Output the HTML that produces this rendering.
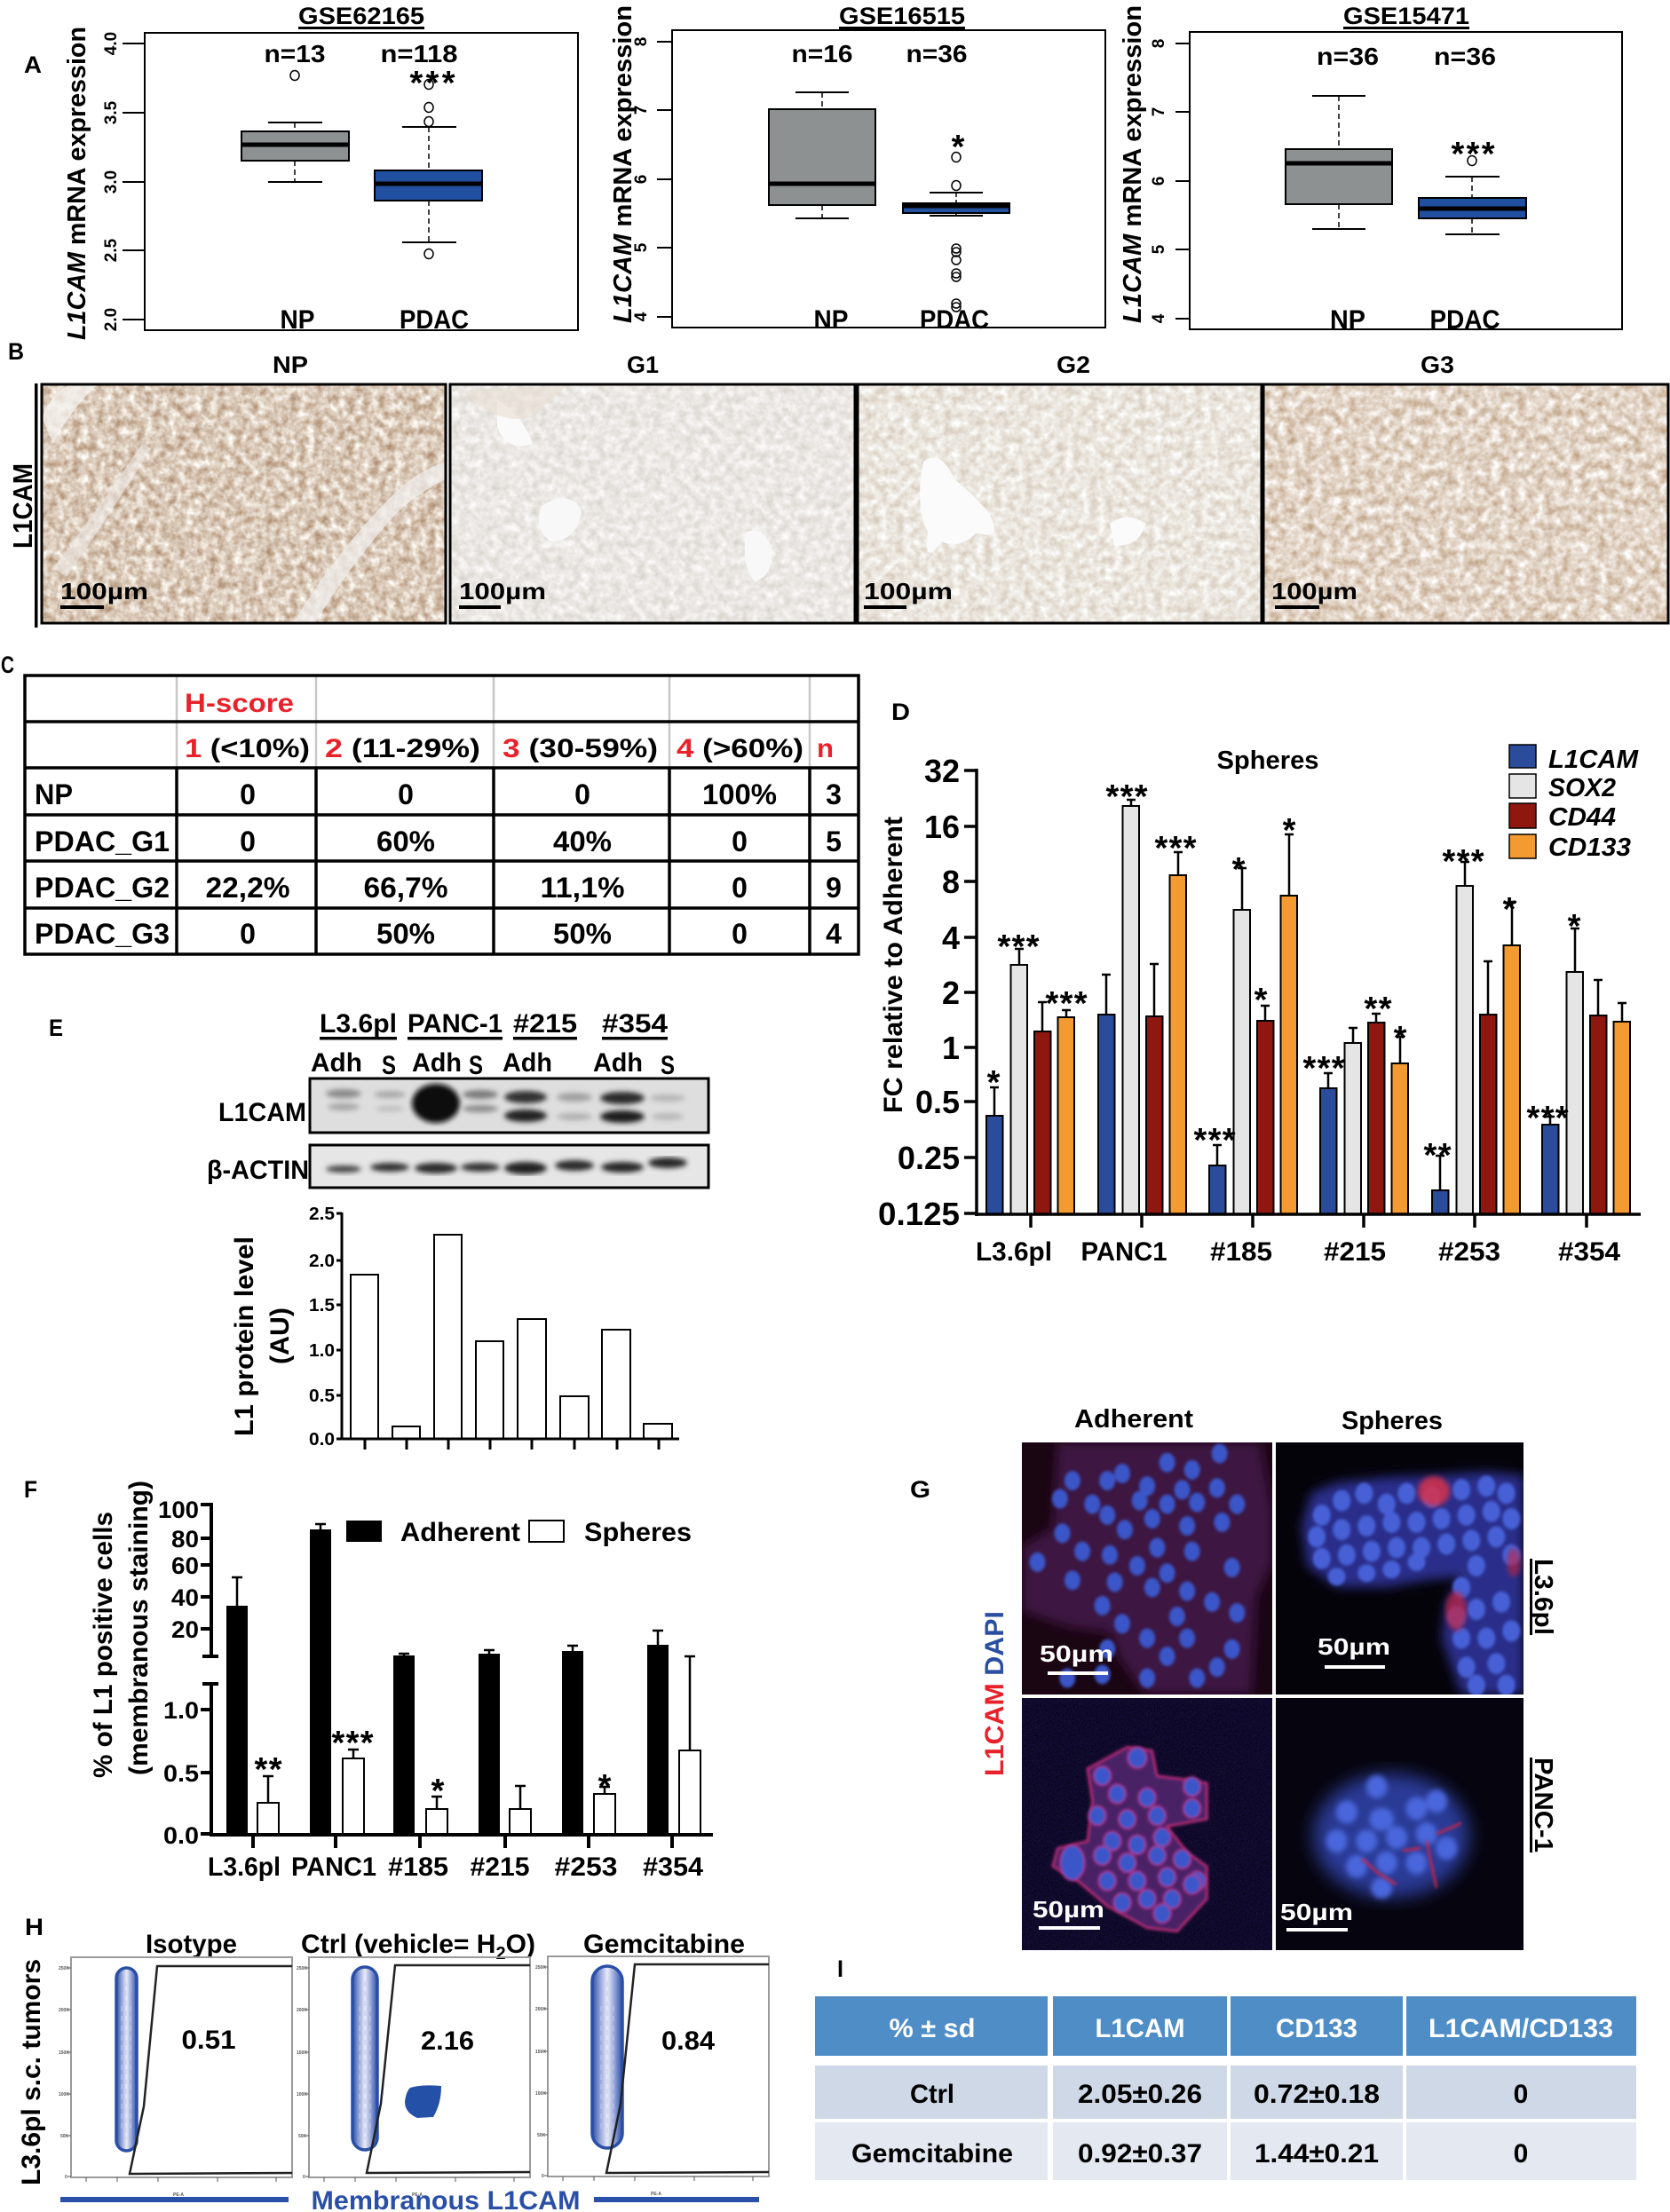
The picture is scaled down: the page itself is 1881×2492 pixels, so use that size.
<!DOCTYPE html>
<html><head><meta charset="utf-8">
<style>
html,body{margin:0;padding:0;background:#fff;}
svg{display:block;}
text{font-family:"Liberation Sans",Arial,sans-serif;font-weight:bold;}
</style></head><body>
<svg xmlns="http://www.w3.org/2000/svg" width="1881" height="2492" viewBox="0 0 1881 2492">
<defs>
 <filter id="tNP" x="0" y="0" width="1" height="1" color-interpolation-filters="sRGB">
  <feTurbulence type="fractalNoise" baseFrequency="0.11" numOctaves="3" seed="3"/>
  <feColorMatrix type="matrix" values="-0.45 0 0 0 1.08  -0.62 0 0 0 1.10  -0.75 0 0 0 1.10  0 0 0 0 1"/>
 </filter>
 <filter id="tG1" x="0" y="0" width="1" height="1" color-interpolation-filters="sRGB">
  <feTurbulence type="fractalNoise" baseFrequency="0.11" numOctaves="3" seed="7"/>
  <feColorMatrix type="matrix" values="-0.2 0 0 0 1.02  -0.22 0 0 0 1.02  -0.25 0 0 0 1.02  0 0 0 0 1"/>
 </filter>
 <filter id="tG2" x="0" y="0" width="1" height="1" color-interpolation-filters="sRGB">
  <feTurbulence type="fractalNoise" baseFrequency="0.11" numOctaves="3" seed="11"/>
  <feColorMatrix type="matrix" values="-0.22 0 0 0 1.03  -0.3 0 0 0 1.05  -0.38 0 0 0 1.06  0 0 0 0 1"/>
 </filter>
 <filter id="tG3" x="0" y="0" width="1" height="1" color-interpolation-filters="sRGB">
  <feTurbulence type="fractalNoise" baseFrequency="0.1" numOctaves="3" seed="5"/>
  <feColorMatrix type="matrix" values="-0.35 0 0 0 1.06  -0.5 0 0 0 1.08  -0.65 0 0 0 1.10  0 0 0 0 1"/>
 </filter>
 <filter id="tBL" x="0" y="0" width="1" height="1" color-interpolation-filters="sRGB">
  <feTurbulence type="fractalNoise" baseFrequency="0.6" numOctaves="1" seed="9"/>
  <feColorMatrix type="matrix" values="0.12 0 0 0 0  0.08 0 0 0 0  0.3 0 0 0 0.02  0 0 0 0 1"/>
 </filter>
 <filter id="blur1"><feGaussianBlur stdDeviation="1.5"/></filter>
 <filter id="blur3"><feGaussianBlur stdDeviation="3"/></filter>
 <filter id="blur6"><feGaussianBlur stdDeviation="6"/></filter>
 <filter id="blur10"><feGaussianBlur stdDeviation="10"/></filter>
 <linearGradient id="flowg" x1="0" x2="1" y1="0" y2="0">
  <stop offset="0" stop-color="#2a4fa6"/>
  <stop offset="0.25" stop-color="#8f9fd6"/>
  <stop offset="0.5" stop-color="#e8ebf8"/>
  <stop offset="0.75" stop-color="#8f9fd6"/>
  <stop offset="1" stop-color="#2a4fa6"/>
 </linearGradient>
</defs>
<rect width="1881" height="2492" fill="#fff"/>

<!-- ================= PANEL A ================= -->
<text x="27" y="82" font-size="27" textLength="20" lengthAdjust="spacingAndGlyphs">A</text>

<!-- Plot 1 -->
<text x="407" y="27" font-size="27" text-anchor="middle" textLength="142" lengthAdjust="spacingAndGlyphs">GSE62165</text>
<rect x="336" y="30" width="142" height="3" fill="#000"/>
<rect x="163" y="37" width="488" height="335" fill="none" stroke="#000" stroke-width="2"/>
<path d="M138 49H163M138 127H163M138 205H163M138 282H163M138 360H163" stroke="#000" stroke-width="2"/>
<g font-size="19" text-anchor="middle" style="font-weight:normal">
 <text transform="translate(131,49) rotate(-90)">4.0</text>
 <text transform="translate(131,127) rotate(-90)">3.5</text>
 <text transform="translate(131,205) rotate(-90)">3.0</text>
 <text transform="translate(131,282) rotate(-90)">2.5</text>
 <text transform="translate(131,360) rotate(-90)">2.0</text>
</g>
<text transform="translate(96,383) rotate(-90)" font-size="29" textLength="353" lengthAdjust="spacingAndGlyphs"><tspan font-style="italic">L1CAM</tspan> mRNA expression</text>
<text x="332" y="70" font-size="28" text-anchor="middle" textLength="69" lengthAdjust="spacingAndGlyphs">n=13</text>
<text x="472" y="70" font-size="28" text-anchor="middle" textLength="87" lengthAdjust="spacingAndGlyphs">n=118</text>
<!-- NP box -->
<path d="M332 138V148M332 181V205" stroke="#000" stroke-width="1.5" stroke-dasharray="6 4"/>
<path d="M302 138H363M302 205H363" stroke="#000" stroke-width="2"/>
<rect x="272" y="148" width="121" height="33" fill="#8e9192" stroke="#000" stroke-width="2"/>
<path d="M272 163H393" stroke="#000" stroke-width="5"/>
<ellipse cx="332" cy="85" rx="5" ry="5.5" fill="none" stroke="#000" stroke-width="1.5"/>
<!-- PDAC box -->
<path d="M483 143V192M483 226V273" stroke="#000" stroke-width="1.5" stroke-dasharray="6 4"/>
<path d="M453 143H514M453 273H514" stroke="#000" stroke-width="2"/>
<rect x="422" y="192" width="121" height="34" fill="#2150a0" stroke="#000" stroke-width="2"/>
<path d="M422 207H543" stroke="#000" stroke-width="5"/>
<g fill="none" stroke="#000" stroke-width="1.5">
 <ellipse cx="483" cy="95" rx="5" ry="5.5"/><ellipse cx="483" cy="121" rx="5" ry="5.5"/>
 <ellipse cx="483" cy="137" rx="5" ry="5.5"/><ellipse cx="483" cy="286" rx="5" ry="5.5"/>
</g>
<text x="487" y="106" font-size="38" text-anchor="middle" textLength="51" lengthAdjust="spacing">***</text>
<text x="335" y="370" font-size="30" text-anchor="middle" textLength="39" lengthAdjust="spacingAndGlyphs">NP</text>
<text x="489" y="370" font-size="30" text-anchor="middle" textLength="78" lengthAdjust="spacingAndGlyphs">PDAC</text>

<!-- Plot 2 -->
<text x="1016" y="27" font-size="27" text-anchor="middle" textLength="142" lengthAdjust="spacingAndGlyphs">GSE16515</text>
<rect x="945" y="30" width="142" height="3" fill="#000"/>
<rect x="757" y="34" width="488" height="335" fill="none" stroke="#000" stroke-width="2"/>
<path d="M740 47H757M740 124H757M740 202H757M740 279H757M740 357H757" stroke="#000" stroke-width="2"/>
<g font-size="19" text-anchor="middle" style="font-weight:normal">
 <text transform="translate(728,47) rotate(-90)">8</text>
 <text transform="translate(728,124) rotate(-90)">7</text>
 <text transform="translate(728,202) rotate(-90)">6</text>
 <text transform="translate(728,279) rotate(-90)">5</text>
 <text transform="translate(728,357) rotate(-90)">4</text>
</g>
<text transform="translate(711,364) rotate(-90)" font-size="29" textLength="358" lengthAdjust="spacingAndGlyphs"><tspan font-style="italic">L1CAM</tspan> mRNA expression</text>
<text x="926" y="70" font-size="28" text-anchor="middle" textLength="69" lengthAdjust="spacingAndGlyphs">n=16</text>
<text x="1055" y="70" font-size="28" text-anchor="middle" textLength="69" lengthAdjust="spacingAndGlyphs">n=36</text>
<path d="M926 104V123M926 231V246" stroke="#000" stroke-width="1.5" stroke-dasharray="6 4"/>
<path d="M896 104H956M896 246H956" stroke="#000" stroke-width="2"/>
<rect x="866" y="123" width="120" height="108" fill="#8e9192" stroke="#000" stroke-width="2"/>
<path d="M866 207H986" stroke="#000" stroke-width="5"/>
<path d="M1077 217V229M1077 240V243" stroke="#000" stroke-width="1.5" stroke-dasharray="5 3"/>
<path d="M1047 217H1107M1047 243H1107" stroke="#000" stroke-width="2"/>
<rect x="1017" y="229" width="120" height="11" fill="#2150a0" stroke="#000" stroke-width="2"/>
<path d="M1017 232H1137" stroke="#000" stroke-width="5"/>
<g fill="none" stroke="#000" stroke-width="1.5">
 <ellipse cx="1077" cy="177" rx="5" ry="5.5"/><ellipse cx="1077" cy="209" rx="5" ry="5.5"/>
 <ellipse cx="1077" cy="280" rx="5" ry="5"/><ellipse cx="1077" cy="284" rx="5" ry="5"/>
 <ellipse cx="1077" cy="293" rx="5" ry="5"/><ellipse cx="1077" cy="308" rx="5" ry="5"/>
 <ellipse cx="1077" cy="312" rx="5" ry="5"/><ellipse cx="1077" cy="342" rx="5" ry="5"/>
 <ellipse cx="1077" cy="346" rx="5" ry="5"/>
</g>
<text x="1079" y="178" font-size="38" text-anchor="middle">*</text>
<text x="936" y="370" font-size="30" text-anchor="middle" textLength="39" lengthAdjust="spacingAndGlyphs">NP</text>
<text x="1075" y="370" font-size="30" text-anchor="middle" textLength="78" lengthAdjust="spacingAndGlyphs">PDAC</text>

<!-- Plot 3 -->
<text x="1584" y="27" font-size="27" text-anchor="middle" textLength="142" lengthAdjust="spacingAndGlyphs">GSE15471</text>
<rect x="1513" y="30" width="142" height="3" fill="#000"/>
<rect x="1340" y="36" width="487" height="335" fill="none" stroke="#000" stroke-width="2"/>
<path d="M1324 49H1340M1324 126H1340M1324 204H1340M1324 281H1340M1324 359H1340" stroke="#000" stroke-width="2"/>
<g font-size="19" text-anchor="middle" style="font-weight:normal">
 <text transform="translate(1311,49) rotate(-90)">8</text>
 <text transform="translate(1311,126) rotate(-90)">7</text>
 <text transform="translate(1311,204) rotate(-90)">6</text>
 <text transform="translate(1311,281) rotate(-90)">5</text>
 <text transform="translate(1311,359) rotate(-90)">4</text>
</g>
<text transform="translate(1285,364) rotate(-90)" font-size="29" textLength="358" lengthAdjust="spacingAndGlyphs"><tspan font-style="italic">L1CAM</tspan> mRNA expression</text>
<text x="1518" y="73" font-size="28" text-anchor="middle" textLength="70" lengthAdjust="spacingAndGlyphs">n=36</text>
<text x="1650" y="73" font-size="28" text-anchor="middle" textLength="70" lengthAdjust="spacingAndGlyphs">n=36</text>
<path d="M1508 108V168M1508 230V258" stroke="#000" stroke-width="1.5" stroke-dasharray="6 4"/>
<path d="M1478 108H1538M1478 258H1538" stroke="#000" stroke-width="2"/>
<rect x="1448" y="168" width="120" height="62" fill="#8e9192" stroke="#000" stroke-width="2"/>
<path d="M1448 184H1568" stroke="#000" stroke-width="5"/>
<path d="M1658 199V223M1658 246V264" stroke="#000" stroke-width="1.5" stroke-dasharray="6 4"/>
<path d="M1628 199H1689M1628 264H1689" stroke="#000" stroke-width="2"/>
<rect x="1598" y="223" width="121" height="23" fill="#2150a0" stroke="#000" stroke-width="2"/>
<path d="M1598 235H1719" stroke="#000" stroke-width="5"/>
<ellipse cx="1658" cy="181" rx="5" ry="5.5" fill="none" stroke="#000" stroke-width="1.5"/>
<text x="1659" y="186" font-size="38" text-anchor="middle" textLength="49" lengthAdjust="spacing">***</text>
<text x="1518" y="370" font-size="30" text-anchor="middle" textLength="40" lengthAdjust="spacingAndGlyphs">NP</text>
<text x="1650" y="370" font-size="30" text-anchor="middle" textLength="79" lengthAdjust="spacingAndGlyphs">PDAC</text>

<!-- ================= PANEL B ================= -->
<text x="9" y="405" font-size="27" textLength="18" lengthAdjust="spacingAndGlyphs">B</text>
<g font-size="27" text-anchor="middle">
 <text x="327" y="420" textLength="40" lengthAdjust="spacingAndGlyphs">NP</text>
 <text x="724" y="420" textLength="36" lengthAdjust="spacingAndGlyphs">G1</text>
 <text x="1209" y="420" textLength="38" lengthAdjust="spacingAndGlyphs">G2</text>
 <text x="1619" y="420" textLength="38" lengthAdjust="spacingAndGlyphs">G3</text>
</g>
<rect x="39" y="432" width="3.5" height="275" fill="#000"/>
<text transform="translate(36,618) rotate(-90)" font-size="31" textLength="96" lengthAdjust="spacingAndGlyphs">L1CAM</text>

<rect x="47" y="433" width="455" height="269" filter="url(#tNP)"/>
<path d="M47 470 Q60 440 80 433 L110 433 Q80 460 60 500 Z" fill="#f4f1ee" opacity="0.8"/>
<path d="M60 640 Q120 560 160 500 L170 505 Q130 570 75 650 Z" fill="#eeebe8" opacity="0.6"/>
<path d="M330 702 Q380 620 440 560 Q470 530 502 520 L502 540 Q470 555 445 580 Q395 635 355 702 Z" fill="#f0eeec" opacity="0.75"/>
<rect x="47" y="433" width="455" height="269" fill="none" stroke="#000" stroke-width="3"/>

<rect x="507" y="433" width="456" height="269" filter="url(#tG1)"/>
<path d="M560 450 Q590 470 600 500 Q570 510 560 480 Z" fill="#fafafa"/>
<path d="M610 570 Q640 550 655 575 Q650 610 620 610 Q600 595 610 570 Z" fill="#f8f8f8"/>
<path d="M840 600 Q860 590 870 620 Q870 650 850 655 Q835 640 840 600 Z" fill="#f8f8f8"/>
<path d="M520 440 Q560 480 600 470 L640 433 Z" fill="#e8ddd2" opacity="0.6"/>
<rect x="507" y="433" width="456" height="269" fill="none" stroke="#000" stroke-width="3"/>

<rect x="966" y="433" width="455" height="269" filter="url(#tG2)"/>
<path d="M1040 520 Q1060 505 1075 540 Q1100 560 1115 580 Q1130 610 1100 600 Q1080 620 1060 610 Q1040 640 1045 600 Q1030 570 1040 520 Z" fill="#fbfbfb"/>
<path d="M1250 590 Q1270 575 1290 590 Q1285 615 1255 615 Z" fill="#fbfbfb"/>
<rect x="966" y="433" width="455" height="269" fill="none" stroke="#000" stroke-width="3"/>

<rect x="1423" y="433" width="456" height="269" filter="url(#tG3)"/>
<rect x="1423" y="433" width="456" height="269" fill="none" stroke="#000" stroke-width="3"/>

<g font-size="26">
 <text x="68" y="675" textLength="99" lengthAdjust="spacingAndGlyphs">100µm</text>
 <text x="517" y="675" textLength="98" lengthAdjust="spacingAndGlyphs">100µm</text>
 <text x="973" y="675" textLength="100" lengthAdjust="spacingAndGlyphs">100µm</text>
 <text x="1432" y="675" textLength="97" lengthAdjust="spacingAndGlyphs">100µm</text>
</g>
<g fill="#000">
 <rect x="68" y="682" width="49" height="4"/>
 <rect x="517" y="682" width="47" height="4"/>
 <rect x="973" y="682" width="48" height="4"/>
 <rect x="1436" y="682" width="50" height="4"/>
</g>

<!-- ================= PANEL C ================= -->
<text x="1" y="758" font-size="27" textLength="15" lengthAdjust="spacingAndGlyphs">C</text>
<g stroke="#c8c8c8" stroke-width="2.5">
 <path d="M199 761V865M356 761V865M556 761V865M754 761V865M912 761V865"/>
</g>
<g stroke="#000" stroke-width="3.5">
 <path d="M199 865V1075M356 865V1075M556 865V1075M754 865V1075M912 865V1075"/>
 <path d="M28 813H967M28 865H967M28 918H967M28 970H967M28 1023H967"/>
 <rect x="28" y="761" width="939" height="314" fill="none"/>
</g>
<text x="208" y="802" font-size="30" fill="#e8212a" textLength="123" lengthAdjust="spacingAndGlyphs">H-score</text>
<g font-size="30">
 <text x="208" y="853" textLength="141" lengthAdjust="spacingAndGlyphs"><tspan fill="#e8212a">1</tspan> (&lt;10%)</text>
 <text x="366" y="853" textLength="175" lengthAdjust="spacingAndGlyphs"><tspan fill="#e8212a">2</tspan> (11-29%)</text>
 <text x="566" y="853" textLength="175" lengthAdjust="spacingAndGlyphs"><tspan fill="#e8212a">3</tspan> (30-59%)</text>
 <text x="762" y="853" textLength="143" lengthAdjust="spacingAndGlyphs"><tspan fill="#e8212a">4</tspan> (&gt;60%)</text>
 <text x="920" y="853" fill="#e8212a" textLength="19" lengthAdjust="spacingAndGlyphs">n</text>
</g>
<g font-size="32">
 <text x="39" y="906" textLength="43" lengthAdjust="spacingAndGlyphs">NP</text>
 <text x="39" y="959" textLength="152" lengthAdjust="spacingAndGlyphs">PDAC_G1</text>
 <text x="39" y="1011" textLength="152" lengthAdjust="spacingAndGlyphs">PDAC_G2</text>
 <text x="39" y="1063" textLength="152" lengthAdjust="spacingAndGlyphs">PDAC_G3</text>
</g>
<g font-size="32" text-anchor="middle">
 <text x="279" y="906">0</text><text x="457" y="906">0</text><text x="656" y="906">0</text><text x="833" y="906" textLength="84" lengthAdjust="spacingAndGlyphs">100%</text><text x="939" y="906">3</text>
 <text x="279" y="959">0</text><text x="457" y="959" textLength="66" lengthAdjust="spacingAndGlyphs">60%</text><text x="656" y="959" textLength="66" lengthAdjust="spacingAndGlyphs">40%</text><text x="833" y="959">0</text><text x="939" y="959">5</text>
 <text x="279" y="1011" textLength="95" lengthAdjust="spacingAndGlyphs">22,2%</text><text x="457" y="1011" textLength="95" lengthAdjust="spacingAndGlyphs">66,7%</text><text x="656" y="1011" textLength="95" lengthAdjust="spacingAndGlyphs">11,1%</text><text x="833" y="1011">0</text><text x="939" y="1011">9</text>
 <text x="279" y="1063">0</text><text x="457" y="1063" textLength="66" lengthAdjust="spacingAndGlyphs">50%</text><text x="656" y="1063" textLength="66" lengthAdjust="spacingAndGlyphs">50%</text><text x="833" y="1063">0</text><text x="939" y="1063">4</text>
</g>

<!-- ================= PANEL D ================= -->
<text x="1004" y="811" font-size="27" textLength="21" lengthAdjust="spacingAndGlyphs">D</text>
<text x="1428" y="866" font-size="29" text-anchor="middle" textLength="115" lengthAdjust="spacingAndGlyphs">Spheres</text>
<text transform="translate(1016,1254) rotate(-90)" font-size="30" textLength="334" lengthAdjust="spacingAndGlyphs">FC relative to Adherent</text>
<g font-size="36" text-anchor="end">
 <text x="1081" y="881">32</text>
 <text x="1081" y="944">16</text>
 <text x="1081" y="1006">8</text>
 <text x="1081" y="1069">4</text>
 <text x="1081" y="1131">2</text>
 <text x="1081" y="1193">1</text>
 <text x="1081" y="1254">0.5</text>
 <text x="1081" y="1317">0.25</text>
 <text x="1081" y="1380" textLength="92" lengthAdjust="spacingAndGlyphs">0.125</text>
</g>
<!-- legend -->
<g stroke="#000" stroke-width="1.5">
 <rect x="1700" y="839" width="30" height="26" fill="#2b4c9b"/>
 <rect x="1700" y="872" width="30" height="27" fill="#e5e5e5"/>
 <rect x="1700" y="905" width="30" height="28" fill="#8e1810"/>
 <rect x="1700" y="940" width="30" height="27" fill="#f39a30"/>
</g>
<g font-size="29" font-style="italic">
 <text x="1744" y="865" textLength="101" lengthAdjust="spacingAndGlyphs">L1CAM</text>
 <text x="1744" y="897" textLength="76" lengthAdjust="spacingAndGlyphs">SOX2</text>
 <text x="1744" y="930" textLength="76" lengthAdjust="spacingAndGlyphs">CD44</text>
 <text x="1744" y="964" textLength="93" lengthAdjust="spacingAndGlyphs">CD133</text>
</g>
<!-- error bars -->
<g stroke="#000" stroke-width="2.5" fill="none">
 <path d="M1120 1257V1225M1115 1225H1125 M1148 1087V1069M1143 1069H1153 M1174 1162V1129M1169 1129H1179 M1201 1146V1138M1196 1138H1206"/>
 <path d="M1246 1143V1098M1241 1098H1251 M1274 908V901M1269 901H1279 M1300 1145V1086M1295 1086H1305 M1327 986V960M1322 960H1332"/>
 <path d="M1371 1313V1290M1366 1290H1376 M1399 1025V978M1394 978H1404 M1425 1150V1133M1420 1133H1430 M1452 1009V940M1447 940H1457"/>
 <path d="M1496 1226V1209M1491 1209H1501 M1524 1175V1158M1519 1158H1529 M1550 1152V1142M1545 1142H1555 M1577 1198V1168M1572 1168H1582"/>
 <path d="M1622 1341V1302M1617 1302H1627 M1650 998V971M1645 971H1655 M1676 1143V1083M1671 1083H1681 M1703 1065V1016M1698 1016H1708"/>
 <path d="M1746 1267V1258M1741 1258H1751 M1774 1095V1046M1769 1046H1779 M1800 1144V1104M1795 1104H1805 M1827 1151V1130M1822 1130H1832"/>
</g>
<!-- bars -->
<g stroke="#000" stroke-width="2">
 <rect x="1111" y="1257" width="18.5" height="111" fill="#2b4c9b"/>
 <rect x="1138.5" y="1087" width="18.5" height="281" fill="#e5e5e5"/>
 <rect x="1165" y="1162" width="18.5" height="206" fill="#8e1810"/>
 <rect x="1191.5" y="1146" width="18.5" height="222" fill="#f39a30"/>

 <rect x="1237" y="1143" width="18.5" height="225" fill="#2b4c9b"/>
 <rect x="1264.5" y="908" width="18.5" height="460" fill="#e5e5e5"/>
 <rect x="1291" y="1145" width="18.5" height="223" fill="#8e1810"/>
 <rect x="1317.5" y="986" width="18.5" height="382" fill="#f39a30"/>

 <rect x="1362" y="1313" width="18.5" height="55" fill="#2b4c9b"/>
 <rect x="1389.5" y="1025" width="18.5" height="343" fill="#e5e5e5"/>
 <rect x="1416" y="1150" width="18.5" height="218" fill="#8e1810"/>
 <rect x="1442.5" y="1009" width="18.5" height="359" fill="#f39a30"/>

 <rect x="1487" y="1226" width="18.5" height="142" fill="#2b4c9b"/>
 <rect x="1514.5" y="1175" width="18.5" height="193" fill="#e5e5e5"/>
 <rect x="1541" y="1152" width="18.5" height="216" fill="#8e1810"/>
 <rect x="1567.5" y="1198" width="18.5" height="170" fill="#f39a30"/>

 <rect x="1613" y="1341" width="18.5" height="27" fill="#2b4c9b"/>
 <rect x="1640.5" y="998" width="18.5" height="370" fill="#e5e5e5"/>
 <rect x="1667" y="1143" width="18.5" height="225" fill="#8e1810"/>
 <rect x="1693.5" y="1065" width="18.5" height="303" fill="#f39a30"/>

 <rect x="1737" y="1267" width="18.5" height="101" fill="#2b4c9b"/>
 <rect x="1764.5" y="1095" width="18.5" height="273" fill="#e5e5e5"/>
 <rect x="1791" y="1144" width="18.5" height="224" fill="#8e1810"/>
 <rect x="1817.5" y="1151" width="18.5" height="217" fill="#f39a30"/>
</g>
<!-- axes -->
<g stroke="#000" stroke-width="3.5" fill="none">
 <path d="M1100 866V1370M1098 1368H1848"/>
 <path d="M1086 868H1100M1086 931H1100M1086 993H1100M1086 1056H1100M1086 1118H1100M1086 1180H1100M1086 1241H1100M1086 1304H1100M1086 1367H1100"/>
 <path d="M1161 1368V1383M1286 1368V1383M1411 1368V1383M1536 1368V1383M1661 1368V1383M1787 1368V1383"/>
</g>
<g font-size="30" text-anchor="middle">
 <text x="1142" y="1420" textLength="86" lengthAdjust="spacingAndGlyphs">L3.6pl</text>
 <text x="1266" y="1420" textLength="97" lengthAdjust="spacingAndGlyphs">PANC1</text>
 <text x="1398" y="1420" textLength="70" lengthAdjust="spacingAndGlyphs">#185</text>
 <text x="1526" y="1420" textLength="70" lengthAdjust="spacingAndGlyphs">#215</text>
 <text x="1655" y="1420" textLength="70" lengthAdjust="spacingAndGlyphs">#253</text>
 <text x="1790" y="1420" textLength="70" lengthAdjust="spacingAndGlyphs">#354</text>
</g>
<g font-size="38" text-anchor="middle">
 <text x="1119" y="1232">*</text>
 <text x="1147" y="1079" textLength="47" lengthAdjust="spacing">***</text>
 <text x="1201" y="1143" textLength="47" lengthAdjust="spacing">***</text>
 <text x="1269" y="910" textLength="47" lengthAdjust="spacing">***</text>
 <text x="1324" y="968" textLength="47" lengthAdjust="spacing">***</text>
 <text x="1368" y="1297" textLength="47" lengthAdjust="spacing">***</text>
 <text x="1395" y="992">*</text>
 <text x="1420" y="1139">*</text>
 <text x="1452" y="948">*</text>
 <text x="1491" y="1216" textLength="47" lengthAdjust="spacing">***</text>
 <text x="1552" y="1149" textLength="31" lengthAdjust="spacing">**</text>
 <text x="1577" y="1182">*</text>
 <text x="1619" y="1314" textLength="31" lengthAdjust="spacing">**</text>
 <text x="1648" y="983" textLength="47" lengthAdjust="spacing">***</text>
 <text x="1700" y="1037">*</text>
 <text x="1743" y="1272" textLength="47" lengthAdjust="spacing">***</text>
 <text x="1773" y="1056">*</text>
</g>

<!-- ================= PANEL E ================= -->
<text x="55" y="1167" font-size="27" textLength="16" lengthAdjust="spacingAndGlyphs">E</text>
<g font-size="30">
 <text x="360" y="1163" textLength="87" lengthAdjust="spacingAndGlyphs">L3.6pl</text>
 <text x="459" y="1163" textLength="107" lengthAdjust="spacingAndGlyphs">PANC-1</text>
 <text x="578" y="1163" textLength="72" lengthAdjust="spacingAndGlyphs">#215</text>
 <text x="678" y="1163" textLength="74" lengthAdjust="spacingAndGlyphs">#354</text>
</g>
<g fill="#000">
 <rect x="360" y="1168" width="87" height="3.5"/>
 <rect x="459" y="1168" width="107" height="3.5"/>
 <rect x="578" y="1168" width="72" height="3.5"/>
 <rect x="678" y="1168" width="74" height="3.5"/>
</g>
<g font-size="30">
 <text x="350" y="1207" textLength="58" lengthAdjust="spacingAndGlyphs">Adh</text>
 <text x="430" y="1210" textLength="16" lengthAdjust="spacingAndGlyphs">S</text>
 <text x="464" y="1207" textLength="56" lengthAdjust="spacingAndGlyphs">Adh</text>
 <text x="528" y="1210" textLength="16" lengthAdjust="spacingAndGlyphs">S</text>
 <text x="566" y="1207" textLength="56" lengthAdjust="spacingAndGlyphs">Adh</text>
 <text x="668" y="1207" textLength="56" lengthAdjust="spacingAndGlyphs">Adh</text>
 <text x="744" y="1210" textLength="16" lengthAdjust="spacingAndGlyphs">S</text>
</g>
<text x="345" y="1263" font-size="30" text-anchor="end" textLength="99" lengthAdjust="spacingAndGlyphs">L1CAM</text>
<text x="348" y="1328" font-size="30" text-anchor="end" textLength="115" lengthAdjust="spacingAndGlyphs">β-ACTIN</text>
<!-- blots -->
<rect x="349" y="1215" width="449" height="61" fill="#dedede"/>
<g filter="url(#blur3)">
 <ellipse cx="387" cy="1232" rx="20" ry="5" fill="#8a8a8a"/>
 <ellipse cx="387" cy="1247" rx="18" ry="4" fill="#a5a5a5"/>
 <ellipse cx="439" cy="1233" rx="18" ry="4" fill="#a8a8a8"/>
 <ellipse cx="439" cy="1249" rx="16" ry="3" fill="#bbb"/>
 <ellipse cx="491" cy="1243" rx="27" ry="22" fill="#111"/>
 <ellipse cx="541" cy="1233" rx="20" ry="5" fill="#7a7a7a"/>
 <ellipse cx="541" cy="1249" rx="20" ry="4" fill="#8a8a8a"/>
 <ellipse cx="592" cy="1236" rx="24" ry="7" fill="#333"/>
 <ellipse cx="592" cy="1257" rx="24" ry="7" fill="#222"/>
 <ellipse cx="647" cy="1236" rx="20" ry="5" fill="#a0a0a0"/>
 <ellipse cx="647" cy="1258" rx="20" ry="4" fill="#b0b0b0"/>
 <ellipse cx="701" cy="1237" rx="25" ry="7" fill="#2c2c2c"/>
 <ellipse cx="701" cy="1258" rx="25" ry="7" fill="#1c1c1c"/>
 <ellipse cx="752" cy="1237" rx="20" ry="4" fill="#b5b5b5"/>
 <ellipse cx="752" cy="1258" rx="18" ry="4" fill="#b8b8b8"/>
</g>
<rect x="349" y="1215" width="449" height="61" fill="none" stroke="#000" stroke-width="3"/>
<rect x="349" y="1290" width="449" height="48" fill="#e6e6e6"/>
<g filter="url(#blur3)">
 <ellipse cx="387" cy="1317" rx="20" ry="4" fill="#444"/>
 <ellipse cx="439" cy="1315" rx="22" ry="5" fill="#333"/>
 <ellipse cx="491" cy="1316" rx="24" ry="6" fill="#2a2a2a"/>
 <ellipse cx="541" cy="1315" rx="22" ry="5" fill="#333"/>
 <ellipse cx="592" cy="1316" rx="24" ry="7" fill="#222"/>
 <ellipse cx="647" cy="1313" rx="22" ry="6" fill="#2a2a2a"/>
 <ellipse cx="701" cy="1315" rx="24" ry="6" fill="#262626"/>
 <ellipse cx="752" cy="1310" rx="22" ry="6" fill="#262626"/>
</g>
<rect x="349" y="1290" width="449" height="48" fill="none" stroke="#000" stroke-width="3"/>
<!-- E bar chart -->
<text transform="translate(285,1618) rotate(-90)" font-size="30" textLength="225" lengthAdjust="spacingAndGlyphs">L1 protein level</text>
<text transform="translate(325,1505) rotate(-90)" font-size="30" text-anchor="middle" textLength="64" lengthAdjust="spacingAndGlyphs">(AU)</text>
<g font-size="20" text-anchor="end">
 <text x="377" y="1374" textLength="29" lengthAdjust="spacingAndGlyphs">2.5</text>
 <text x="377" y="1427" textLength="29" lengthAdjust="spacingAndGlyphs">2.0</text>
 <text x="377" y="1477" textLength="29" lengthAdjust="spacingAndGlyphs">1.5</text>
 <text x="377" y="1528" textLength="29" lengthAdjust="spacingAndGlyphs">1.0</text>
 <text x="377" y="1579" textLength="29" lengthAdjust="spacingAndGlyphs">0.5</text>
 <text x="377" y="1628" textLength="29" lengthAdjust="spacingAndGlyphs">0.0</text>
</g>
<g fill="#fff" stroke="#000" stroke-width="2">
 <rect x="395" y="1436" width="31" height="185"/>
 <rect x="442" y="1607" width="31" height="14"/>
 <rect x="489" y="1391" width="31" height="230"/>
 <rect x="536" y="1511" width="31" height="110"/>
 <rect x="583" y="1486" width="32" height="135"/>
 <rect x="631" y="1573" width="32" height="48"/>
 <rect x="678" y="1498" width="32" height="123"/>
 <rect x="725" y="1604" width="32" height="17"/>
</g>
<g stroke="#000" stroke-width="3" fill="none">
 <path d="M385 1366V1622M384 1621H765"/>
 <path d="M379 1367H385M379 1420H385M379 1470H385M379 1521H385M379 1572H385M379 1621H385"/>
 <path d="M411 1621V1633M458 1621V1633M505 1621V1633M552 1621V1633M599 1621V1633M647 1621V1633M695 1621V1633M742 1621V1633"/>
</g>

<!-- ================= PANEL F ================= -->
<text x="27" y="1687" font-size="27" textLength="15" lengthAdjust="spacingAndGlyphs">F</text>
<text transform="translate(126,1853) rotate(-90)" font-size="30" text-anchor="middle" textLength="300" lengthAdjust="spacingAndGlyphs">% of L1 positive cells</text>
<text transform="translate(166,1834) rotate(-90)" font-size="30" text-anchor="middle" textLength="332" lengthAdjust="spacingAndGlyphs">(membranous staining)</text>
<g font-size="27" text-anchor="end">
 <text x="224" y="1710" textLength="46" lengthAdjust="spacingAndGlyphs">100</text>
 <text x="224" y="1743" textLength="31" lengthAdjust="spacingAndGlyphs">80</text>
 <text x="224" y="1773" textLength="31" lengthAdjust="spacingAndGlyphs">60</text>
 <text x="224" y="1809" textLength="31" lengthAdjust="spacingAndGlyphs">40</text>
 <text x="224" y="1845" textLength="31" lengthAdjust="spacingAndGlyphs">20</text>
 <text x="224" y="1936" textLength="40" lengthAdjust="spacingAndGlyphs">1.0</text>
 <text x="224" y="2007" textLength="40" lengthAdjust="spacingAndGlyphs">0.5</text>
 <text x="224" y="2077" textLength="40" lengthAdjust="spacingAndGlyphs">0.0</text>
</g>
<!-- legend F -->
<rect x="390" y="1713" width="40" height="24" fill="#000"/>
<text x="451" y="1736" font-size="30" textLength="135" lengthAdjust="spacingAndGlyphs">Adherent</text>
<rect x="596" y="1713" width="39" height="24" fill="#fff" stroke="#000" stroke-width="2"/>
<text x="658" y="1736" font-size="30" textLength="121" lengthAdjust="spacingAndGlyphs">Spheres</text>
<!-- bars F -->
<g stroke="#000" stroke-width="2.5" fill="none">
 <path d="M267 1809V1777M261 1777H273 M361 1723V1717M355 1717H367 M455 1865V1863M449 1863H461 M551 1863V1859M545 1859H557 M645 1860V1854M639 1854H651 M741 1853V1837M735 1837H747"/>
 <path d="M302 2031V2001M296 2001H308 M398 1981V1971M392 1971H404 M492 2038V2024M486 2024H498 M586 2038V2012M580 2012H592 M681 2021V2013M675 2013H687 M777 1972V1866M771 1866H783"/>
</g>
<g fill="#000">
 <rect x="255" y="1809" width="24" height="258"/>
 <rect x="349" y="1723" width="24" height="344"/>
 <rect x="443" y="1865" width="24" height="202"/>
 <rect x="539" y="1863" width="24" height="204"/>
 <rect x="633" y="1860" width="24" height="207"/>
 <rect x="729" y="1853" width="24" height="214"/>
</g>
<g fill="#fff" stroke="#000" stroke-width="2">
 <rect x="290" y="2031" width="24" height="36"/>
 <rect x="386" y="1981" width="24" height="86"/>
 <rect x="480" y="2038" width="24" height="29"/>
 <rect x="574" y="2038" width="24" height="29"/>
 <rect x="669" y="2021" width="24" height="46"/>
 <rect x="765" y="1972" width="24" height="95"/>
</g>
<g stroke="#000" stroke-width="4" fill="none">
 <path d="M238 1693V1866M238 1897V2067M236 2067H803"/>
 <path d="M226 1695H238M226 1733H238M226 1763H238M226 1799H238M226 1835H238M228 1866H246M228 1897H246M226 1926H238M226 1997H238M226 2066H238"/>
 <path d="M285 2067V2082M378 2067V2082M473 2067V2082M569 2067V2082M663 2067V2082M757 2067V2082"/>
</g>
<g font-size="38" text-anchor="middle">
 <text x="302" y="2006" textLength="31" lengthAdjust="spacing">**</text>
 <text x="397" y="1976" textLength="47" lengthAdjust="spacing">***</text>
 <text x="493" y="2030">*</text>
 <text x="681" y="2025">*</text>
</g>
<g font-size="30" text-anchor="middle">
 <text x="275" y="2113" textLength="82" lengthAdjust="spacingAndGlyphs">L3.6pl</text>
 <text x="376" y="2113" textLength="96" lengthAdjust="spacingAndGlyphs">PANC1</text>
 <text x="471" y="2113" textLength="68" lengthAdjust="spacingAndGlyphs">#185</text>
 <text x="563" y="2113" textLength="67" lengthAdjust="spacingAndGlyphs">#215</text>
 <text x="660" y="2113" textLength="71" lengthAdjust="spacingAndGlyphs">#253</text>
 <text x="758" y="2113" textLength="68" lengthAdjust="spacingAndGlyphs">#354</text>
</g>

<!-- ================= PANEL G ================= -->
<text x="1025" y="1687" font-size="27" textLength="23" lengthAdjust="spacingAndGlyphs">G</text>
<text x="1277" y="1608" font-size="29" text-anchor="middle" textLength="134" lengthAdjust="spacingAndGlyphs">Adherent</text>
<text x="1568" y="1610" font-size="29" text-anchor="middle" textLength="114" lengthAdjust="spacingAndGlyphs">Spheres</text>
<text transform="translate(1130,2001) rotate(-90)" font-size="30" textLength="186" lengthAdjust="spacingAndGlyphs"><tspan fill="#e8212a">L1CAM</tspan> <tspan fill="#2a4ea0">DAPI</tspan></text>
<text transform="translate(1729,1756) rotate(90)" font-size="29" textLength="86" lengthAdjust="spacingAndGlyphs">L3.6pl</text>
<rect x="1723" y="1756" width="3" height="86" fill="#000"/>
<text transform="translate(1729,1980) rotate(90)" font-size="29" textLength="107" lengthAdjust="spacingAndGlyphs">PANC-1</text>
<rect x="1723" y="1980" width="3" height="107" fill="#000"/>

<!-- TL image -->
<svg x="1151" y="1625" width="282" height="284" viewBox="1151 1625 282 284">
 <rect x="1151" y="1625" width="282" height="284" fill="#1a0512"/>
 <path d="M1191 1625 L1420 1625 L1433 1700 L1433 1760 L1415 1800 L1410 1909 L1290 1909 L1262 1870 L1250 1840 L1200 1832 L1151 1815 L1151 1742 L1185 1722 Z" fill="#3d1743" filter="url(#blur6)"/>
 <g fill="#3b56c9" filter="url(#blur1)">
  <ellipse cx="1373.6" cy="1637.5" rx="9" ry="11"/><ellipse cx="1314.6" cy="1647.7" rx="9" ry="11"/>
  <ellipse cx="1342.7" cy="1655.9" rx="9" ry="11"/><ellipse cx="1264" cy="1660" rx="9" ry="11"/>
  <ellipse cx="1207.9" cy="1668.1" rx="9" ry="11"/><ellipse cx="1247.2" cy="1668.1" rx="9" ry="11"/>
  <ellipse cx="1292.1" cy="1674.2" rx="9" ry="11"/><ellipse cx="1331.5" cy="1678.3" rx="9" ry="11"/>
  <ellipse cx="1370.8" cy="1676.3" rx="9" ry="11"/><ellipse cx="1193.8" cy="1688.5" rx="9" ry="11"/>
  <ellipse cx="1230.3" cy="1694.6" rx="9" ry="11"/><ellipse cx="1283.7" cy="1690.6" rx="9" ry="11"/>
  <ellipse cx="1314.6" cy="1694.6" rx="9" ry="11"/><ellipse cx="1348.3" cy="1692.6" rx="9" ry="11"/>
  <ellipse cx="1393.3" cy="1694.6" rx="9" ry="11"/><ellipse cx="1247.2" cy="1706.9" rx="9" ry="11"/>
  <ellipse cx="1297.8" cy="1711" rx="9" ry="11"/><ellipse cx="1337.1" cy="1719.1" rx="9" ry="11"/>
  <ellipse cx="1376.4" cy="1715" rx="9" ry="11"/><ellipse cx="1196.6" cy="1727.3" rx="9" ry="11"/>
  <ellipse cx="1266.9" cy="1723.2" rx="9" ry="11"/><ellipse cx="1219.1" cy="1747.7" rx="9" ry="11"/>
  <ellipse cx="1250" cy="1751.8" rx="9" ry="11"/><ellipse cx="1303.4" cy="1743.6" rx="9" ry="11"/>
  <ellipse cx="1342.7" cy="1747.7" rx="9" ry="11"/><ellipse cx="1168.5" cy="1759.9" rx="9" ry="11"/>
  <ellipse cx="1280.9" cy="1764" rx="9" ry="11"/><ellipse cx="1314.6" cy="1772.2" rx="9" ry="11"/>
  <ellipse cx="1387.6" cy="1766" rx="9" ry="11"/><ellipse cx="1207.9" cy="1780.3" rx="9" ry="11"/>
  <ellipse cx="1255.6" cy="1782.4" rx="9" ry="11"/><ellipse cx="1297.8" cy="1788.5" rx="9" ry="11"/>
  <ellipse cx="1337.1" cy="1792.6" rx="9" ry="11"/><ellipse cx="1393.3" cy="1817" rx="9" ry="11"/>
  <ellipse cx="1241.6" cy="1808.9" rx="9" ry="11"/><ellipse cx="1264" cy="1829.3" rx="9" ry="11"/>
  <ellipse cx="1325.8" cy="1821.1" rx="9" ry="11"/><ellipse cx="1365.2" cy="1804.8" rx="9" ry="11"/>
  <ellipse cx="1292.1" cy="1845.6" rx="9" ry="11"/><ellipse cx="1337.1" cy="1845.6" rx="9" ry="11"/>
  <ellipse cx="1387.6" cy="1857.8" rx="9" ry="11"/><ellipse cx="1247.2" cy="1857.8" rx="9" ry="11"/>
  <ellipse cx="1202.2" cy="1890.5" rx="9" ry="11"/><ellipse cx="1241.6" cy="1886.4" rx="9" ry="11"/>
  <ellipse cx="1314.6" cy="1866" rx="9" ry="11"/><ellipse cx="1370.8" cy="1878.2" rx="9" ry="11"/>
  <ellipse cx="1292.1" cy="1890.5" rx="9" ry="11"/><ellipse cx="1348.3" cy="1890.5" rx="9" ry="11"/>
 </g>
</svg>
<!-- TR image -->
<svg x="1437" y="1625" width="279" height="284" viewBox="1437 1625 279 284">
 <rect x="1437" y="1625" width="279" height="284" fill="#05030a"/>
 <path d="M1466 1719 L1477 1682 L1506 1670 L1562 1664 L1618 1662 L1674 1658 L1716 1662 L1716 1909 L1646 1909 L1624 1846 L1629 1805 L1646 1776 L1607 1780 L1562 1788 L1506 1788 L1472 1764 Z" fill="#2a2f8a" filter="url(#blur6)"/>
 <g fill="#4661d6" filter="url(#blur1)">
  <ellipse cx="1488.8" cy="1706.9" rx="10" ry="12"/><ellipse cx="1511.2" cy="1690.6" rx="10" ry="12"/>
  <ellipse cx="1536.5" cy="1682.4" rx="10" ry="12"/><ellipse cx="1561.8" cy="1694.6" rx="10" ry="12"/>
  <ellipse cx="1584.3" cy="1682.4" rx="10" ry="12"/><ellipse cx="1612.4" cy="1686.5" rx="10" ry="12"/>
  <ellipse cx="1646.1" cy="1678.3" rx="10" ry="12"/><ellipse cx="1674.2" cy="1674.2" rx="10" ry="12"/>
  <ellipse cx="1696.6" cy="1682.4" rx="10" ry="12"/><ellipse cx="1483.1" cy="1731.4" rx="10" ry="12"/>
  <ellipse cx="1511.2" cy="1723.2" rx="10" ry="12"/><ellipse cx="1539.3" cy="1719.1" rx="10" ry="12"/>
  <ellipse cx="1567.4" cy="1715" rx="10" ry="12"/><ellipse cx="1595.5" cy="1715" rx="10" ry="12"/>
  <ellipse cx="1623.6" cy="1711" rx="10" ry="12"/><ellipse cx="1651.7" cy="1706.9" rx="10" ry="12"/>
  <ellipse cx="1679.8" cy="1702.8" rx="10" ry="12"/><ellipse cx="1702.3" cy="1711" rx="10" ry="12"/>
  <ellipse cx="1488.8" cy="1755.8" rx="10" ry="12"/><ellipse cx="1516.9" cy="1751.8" rx="10" ry="12"/>
  <ellipse cx="1544.9" cy="1747.7" rx="10" ry="12"/><ellipse cx="1573" cy="1743.6" rx="10" ry="12"/>
  <ellipse cx="1601.1" cy="1743.6" rx="10" ry="12"/><ellipse cx="1629.2" cy="1739.5" rx="10" ry="12"/>
  <ellipse cx="1657.3" cy="1735.4" rx="10" ry="12"/><ellipse cx="1685.4" cy="1731.4" rx="10" ry="12"/>
  <ellipse cx="1505.6" cy="1776.2" rx="10" ry="10"/><ellipse cx="1539.3" cy="1772.2" rx="10" ry="10"/>
  <ellipse cx="1567.4" cy="1768.1" rx="10" ry="10"/><ellipse cx="1595.5" cy="1759.9" rx="10" ry="10"/>
  <ellipse cx="1702.3" cy="1751.8" rx="10" ry="12"/><ellipse cx="1662.9" cy="1764" rx="10" ry="12"/>
  <ellipse cx="1646.1" cy="1788.5" rx="10" ry="12"/><ellipse cx="1640.5" cy="1821.1" rx="10" ry="12"/>
  <ellipse cx="1662.9" cy="1813" rx="10" ry="12"/><ellipse cx="1691" cy="1804.8" rx="10" ry="12"/>
  <ellipse cx="1646.1" cy="1845.6" rx="10" ry="12"/><ellipse cx="1674.2" cy="1845.6" rx="10" ry="12"/>
  <ellipse cx="1702.3" cy="1837.4" rx="10" ry="12"/><ellipse cx="1651.7" cy="1878.2" rx="10" ry="12"/>
  <ellipse cx="1685.4" cy="1874.2" rx="10" ry="12"/><ellipse cx="1662.9" cy="1898.6" rx="10" ry="12"/>
  <ellipse cx="1696.6" cy="1898.6" rx="10" ry="12"/>
 </g>
 <ellipse cx="1615" cy="1680" rx="18" ry="17" fill="#d8304c" opacity="0.85" filter="url(#blur3)"/>
 <ellipse cx="1640" cy="1815" rx="12" ry="22" fill="#c8203c" opacity="0.7" filter="url(#blur3)"/>
 <ellipse cx="1705" cy="1760" rx="8" ry="16" fill="#c8203c" opacity="0.6" filter="url(#blur3)"/>
</svg>
<!-- BL image -->
<svg x="1151" y="1913" width="282" height="284" viewBox="1151 1913 282 284">
 <rect x="1151" y="1913" width="282" height="284" filter="url(#tBL)"/>
 <path d="M1224.7 1992.5 L1269.7 1968 L1297.8 1972.1 L1303.4 2000.6 L1337.1 2004.7 L1359.6 2008.8 L1359.6 2049.6 L1314.6 2057.8 L1337.1 2086.3 L1359.6 2102.6 L1359.6 2139.4 L1325.8 2176.1 L1292.1 2172 L1247.2 2147.5 L1213.5 2119 L1185.4 2102.6 L1191 2082.2 L1224.7 2074.1 L1230.3 2029.2 Z" fill="#4a2066" stroke="#d03080" stroke-width="2" filter="url(#blur1)"/>
 <g fill="#3b56c9" stroke="#c02878" stroke-width="1.5" filter="url(#blur1)">
  <ellipse cx="1241.6" cy="2000.6" rx="10" ry="11"/><ellipse cx="1280.9" cy="1980.2" rx="11" ry="12"/>
  <ellipse cx="1258.4" cy="2021" rx="10" ry="11"/><ellipse cx="1292.1" cy="2025.1" rx="10" ry="11"/>
  <ellipse cx="1236" cy="2045.5" rx="10" ry="11"/><ellipse cx="1269.7" cy="2049.6" rx="10" ry="11"/>
  <ellipse cx="1303.4" cy="2045.5" rx="10" ry="11"/><ellipse cx="1342.7" cy="2012.9" rx="10" ry="11"/>
  <ellipse cx="1342.7" cy="2037.4" rx="10" ry="11"/><ellipse cx="1252.8" cy="2074.1" rx="10" ry="11"/>
  <ellipse cx="1280.9" cy="2078.2" rx="10" ry="11"/><ellipse cx="1309" cy="2070" rx="10" ry="11"/>
  <ellipse cx="1207.9" cy="2098.6" rx="14" ry="20"/><ellipse cx="1241.6" cy="2090.4" rx="10" ry="11"/>
  <ellipse cx="1269.7" cy="2098.6" rx="10" ry="11"/><ellipse cx="1303.4" cy="2090.4" rx="10" ry="11"/>
  <ellipse cx="1331.5" cy="2094.5" rx="10" ry="11"/><ellipse cx="1348.3" cy="2119" rx="10" ry="11"/>
  <ellipse cx="1247.2" cy="2119" rx="10" ry="11"/><ellipse cx="1280.9" cy="2119" rx="10" ry="11"/>
  <ellipse cx="1314.6" cy="2114.9" rx="10" ry="11"/><ellipse cx="1264" cy="2143.4" rx="10" ry="11"/>
  <ellipse cx="1292.1" cy="2139.4" rx="10" ry="11"/><ellipse cx="1320.2" cy="2139.4" rx="10" ry="11"/>
  <ellipse cx="1342.7" cy="2123" rx="10" ry="11"/><ellipse cx="1309" cy="2155.7" rx="10" ry="11"/>
 </g>
</svg>
<!-- BR image -->
<svg x="1437" y="1913" width="279" height="284" viewBox="1437 1913 279 284">
 <rect x="1437" y="1913" width="279" height="284" fill="#06040e"/>
 <ellipse cx="1567" cy="2068" rx="88" ry="70" fill="#2c3a96" filter="url(#blur10)"/>
 <g fill="#4a66dc" filter="url(#blur3)">
  <ellipse cx="1550.6" cy="2012.9" rx="12" ry="13"/><ellipse cx="1516.9" cy="2041.4" rx="12" ry="13"/>
  <ellipse cx="1556.2" cy="2049.6" rx="14" ry="13"/><ellipse cx="1595.5" cy="2037.4" rx="12" ry="13"/>
  <ellipse cx="1505.6" cy="2074.1" rx="12" ry="13"/><ellipse cx="1539.3" cy="2074.1" rx="12" ry="13"/>
  <ellipse cx="1573" cy="2070" rx="12" ry="13"/><ellipse cx="1606.7" cy="2065.9" rx="12" ry="13"/>
  <ellipse cx="1629.2" cy="2082.2" rx="12" ry="13"/><ellipse cx="1528.1" cy="2102.6" rx="12" ry="13"/>
  <ellipse cx="1561.8" cy="2098.6" rx="12" ry="13"/><ellipse cx="1595.5" cy="2098.6" rx="12" ry="13"/>
  <ellipse cx="1556.2" cy="2127.1" rx="12" ry="12"/><ellipse cx="1618" cy="2029.2" rx="12" ry="13"/>
 </g>
 <g stroke="#d02848" stroke-width="3" fill="none" filter="url(#blur1)" opacity="0.85">
  <path d="M1618 2066 L1646 2054 M1607 2074 L1612 2100 L1618 2127 M1534 2094 L1552 2110 L1573 2123 M1580 2085 L1600 2082"/>
 </g>
</svg>
<!-- scale bars G -->
<g font-size="26" fill="#fff">
 <text x="1171" y="1872" textLength="83" lengthAdjust="spacingAndGlyphs">50µm</text>
 <text x="1484" y="1864" textLength="82" lengthAdjust="spacingAndGlyphs">50µm</text>
 <text x="1163" y="2160" textLength="81" lengthAdjust="spacingAndGlyphs">50µm</text>
 <text x="1442" y="2163" textLength="82" lengthAdjust="spacingAndGlyphs">50µm</text>
</g>
<g fill="#fff">
 <rect x="1180" y="1883" width="68" height="4"/>
 <rect x="1492" y="1876" width="68" height="4"/>
 <rect x="1170" y="2170" width="69" height="4"/>
 <rect x="1449" y="2172" width="69" height="4"/>
</g>

<!-- ================= PANEL H ================= -->
<text x="28" y="2180" font-size="27" textLength="21" lengthAdjust="spacingAndGlyphs">H</text>
<text transform="translate(45,2462) rotate(-90)" font-size="30" textLength="255" lengthAdjust="spacingAndGlyphs">L3.6pl s.c. tumors</text>
<g font-size="30">
 <text x="164" y="2200" textLength="103" lengthAdjust="spacingAndGlyphs">Isotype</text>
 <text x="339" y="2200" textLength="264" lengthAdjust="spacingAndGlyphs">Ctrl (vehicle= H<tspan font-size="20" dy="7">2</tspan><tspan dy="-7">O)</tspan></text>
 <text x="657" y="2200" textLength="182" lengthAdjust="spacingAndGlyphs">Gemcitabine</text>
</g>
<g fill="none" stroke="#9a9a9a" stroke-width="2">
 <rect x="80" y="2205" width="249" height="248"/>
 <rect x="348" y="2205" width="249" height="248"/>
 <rect x="617" y="2204" width="249" height="248"/>
</g>
<!-- small ticks and tiny labels -->
<g stroke="#555" stroke-width="1">
 <path d="M80 2217H76M80 2264H76M80 2312H76M80 2359H76M80 2406H76M80 2452H76"/>
 <path d="M348 2217H344M348 2264H344M348 2312H344M348 2359H344M348 2406H344M348 2452H344"/>
 <path d="M617 2216H613M617 2263H613M617 2311H613M617 2358H613M617 2405H613M617 2451H613"/>
 <path d="M97 2453V2458M132 2453V2458M178 2453V2458M245 2453V2458M311 2453V2458"/>
 <path d="M365 2453V2458M400 2453V2458M446 2453V2458M513 2453V2458M579 2453V2458"/>
 <path d="M634 2452V2457M669 2452V2457M715 2452V2457M782 2452V2457M848 2452V2457"/>
</g>
<g font-size="5" fill="#555" style="font-weight:normal">
 <text x="66" y="2219">250K</text><text x="66" y="2266">200K</text><text x="66" y="2314">150K</text><text x="66" y="2361">100K</text><text x="68" y="2408">50K</text><text x="73" y="2454">0</text>
 <text x="334" y="2219">250K</text><text x="334" y="2266">200K</text><text x="334" y="2314">150K</text><text x="334" y="2361">100K</text><text x="336" y="2408">50K</text><text x="341" y="2454">0</text>
 <text x="603" y="2218">250K</text><text x="603" y="2265">200K</text><text x="603" y="2313">150K</text><text x="603" y="2360">100K</text><text x="605" y="2407">50K</text><text x="610" y="2453">0</text>
 <text x="195" y="2474">PE-A</text><text x="464" y="2474">PE-A</text><text x="733" y="2473">PE-A</text>
</g>
<!-- blobs -->
<g stroke="#2a4fa6" stroke-width="3.5" fill="url(#flowg)">
 <rect x="131" y="2217" width="23" height="206" rx="11.5"/>
 <rect x="397" y="2216" width="28" height="206" rx="14"/>
 <rect x="667" y="2215" width="34" height="205" rx="17"/>
</g>
<g stroke="#c4cbe8" stroke-width="1" fill="none" stroke-dasharray="6 5">
 <path d="M142 2232V2410M137 2260V2400M147 2260V2400"/>
 <path d="M411 2232V2410M405 2260V2400M417 2260V2400"/>
 <path d="M684 2232V2410M677 2260V2400M691 2260V2400"/>
</g>
<path d="M462 2352 Q475 2348 497 2350 Q497 2370 488 2385 L470 2386 Q456 2380 456 2368 Q457 2357 462 2352 Z" fill="#2450a8"/>
<!-- gates -->
<g fill="none" stroke="#222" stroke-width="2.5">
 <path d="M329 2215 L177 2215 L162 2373 L146 2449 L329 2448"/>
 <path d="M597 2214 L445 2214 L429 2370 L413 2448 L597 2447"/>
 <path d="M866 2213 L715 2213 L699 2370 L683 2448 L866 2447"/>
</g>
<g font-size="30" text-anchor="middle">
 <text x="235" y="2308" textLength="61" lengthAdjust="spacingAndGlyphs">0.51</text>
 <text x="504" y="2309" textLength="60" lengthAdjust="spacingAndGlyphs">2.16</text>
 <text x="775" y="2309" textLength="60" lengthAdjust="spacingAndGlyphs">0.84</text>
</g>
<rect x="68" y="2475" width="257" height="6" fill="#2a4fa6"/>
<rect x="669" y="2475" width="186" height="6" fill="#2a4fa6"/>
<text x="502" y="2489" font-size="30" fill="#2a4fa6" text-anchor="middle" textLength="303" lengthAdjust="spacingAndGlyphs">Membranous L1CAM</text>

<!-- ================= PANEL I ================= -->
<text x="943" y="2227" font-size="27" textLength="7" lengthAdjust="spacingAndGlyphs">I</text>
<g fill="#4f8dc6">
 <rect x="918" y="2249" width="262" height="67"/>
 <rect x="1186" y="2249" width="196" height="67"/>
 <rect x="1386" y="2249" width="194" height="67"/>
 <rect x="1584" y="2249" width="259" height="67"/>
</g>
<g fill="#cfd8e6">
 <rect x="918" y="2327" width="262" height="60"/>
 <rect x="1186" y="2327" width="196" height="60"/>
 <rect x="1386" y="2327" width="194" height="60"/>
 <rect x="1584" y="2327" width="259" height="60"/>
</g>
<g fill="#e4e9f1">
 <rect x="918" y="2391" width="262" height="65"/>
 <rect x="1186" y="2391" width="196" height="65"/>
 <rect x="1386" y="2391" width="194" height="65"/>
 <rect x="1584" y="2391" width="259" height="65"/>
</g>
<g font-size="30" fill="#fff" text-anchor="middle">
 <text x="1050" y="2295" textLength="97" lengthAdjust="spacingAndGlyphs">%  ± sd</text>
 <text x="1284" y="2295" textLength="101" lengthAdjust="spacingAndGlyphs">L1CAM</text>
 <text x="1483" y="2295" textLength="92" lengthAdjust="spacingAndGlyphs">CD133</text>
 <text x="1713" y="2295" textLength="208" lengthAdjust="spacingAndGlyphs">L1CAM/CD133</text>
</g>
<g font-size="30" text-anchor="middle">
 <text x="1050" y="2369" textLength="50" lengthAdjust="spacingAndGlyphs">Ctrl</text>
 <text x="1284" y="2369" textLength="140" lengthAdjust="spacingAndGlyphs">2.05±0.26</text>
 <text x="1483" y="2369" textLength="142" lengthAdjust="spacingAndGlyphs">0.72±0.18</text>
 <text x="1713" y="2369">0</text>
 <text x="1050" y="2436" textLength="182" lengthAdjust="spacingAndGlyphs">Gemcitabine</text>
 <text x="1284" y="2436" textLength="140" lengthAdjust="spacingAndGlyphs">0.92±0.37</text>
 <text x="1483" y="2436" textLength="140" lengthAdjust="spacingAndGlyphs">1.44±0.21</text>
 <text x="1713" y="2436">0</text>
</g>
</svg>
</body></html>
